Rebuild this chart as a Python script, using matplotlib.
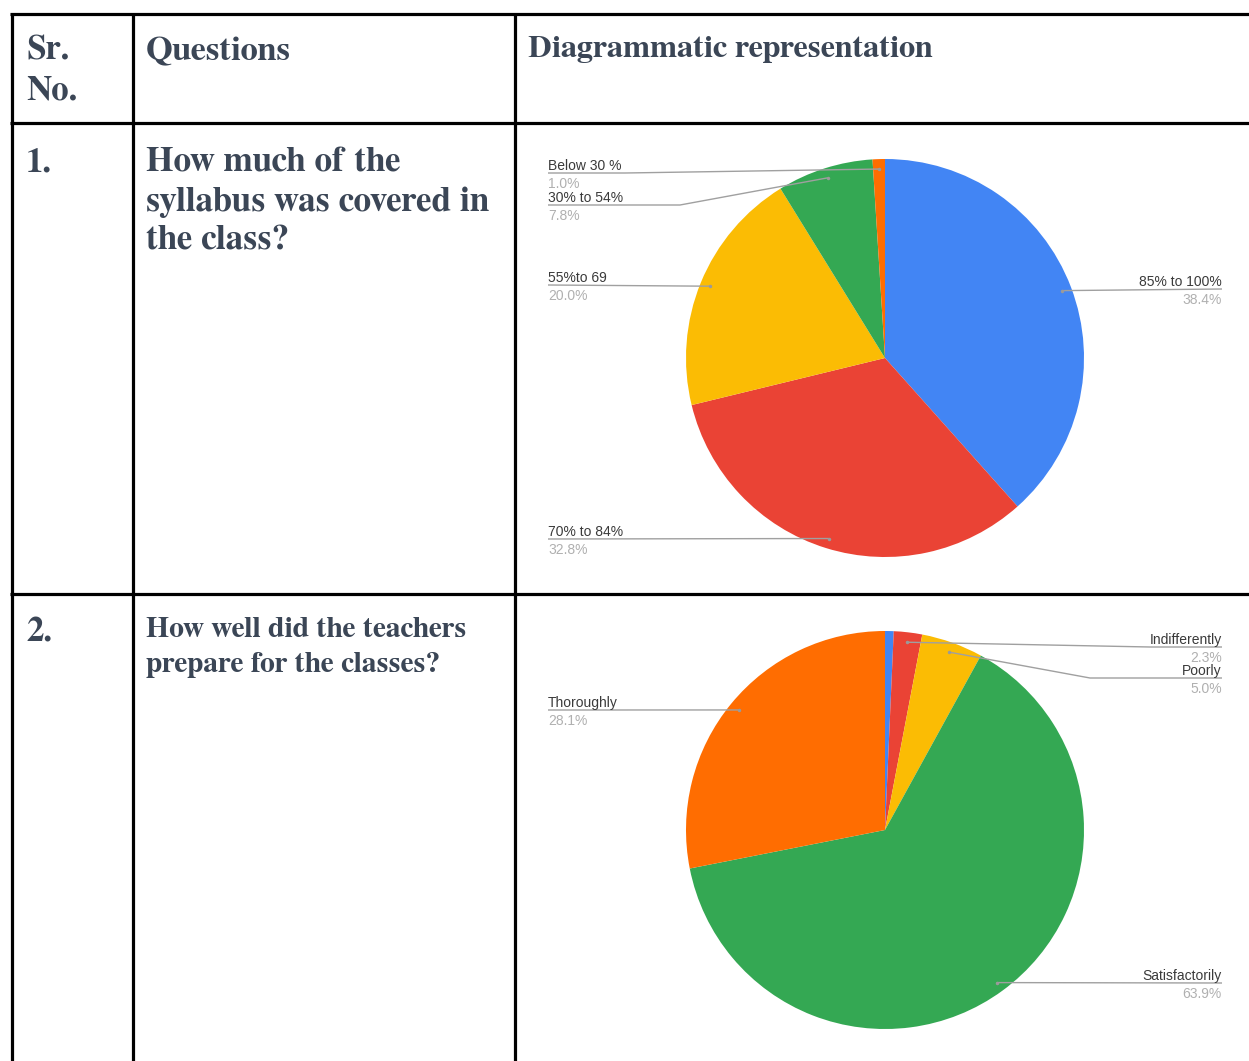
import numpy as np
import matplotlib
matplotlib.use("Agg")
import matplotlib.pyplot as plt

# ---- data ----
q1_labels = ["85% to 100%", "70% to 84%", "55%to 69", "30% to 54%", "Below 30 %"]
q1_values = [38.4, 32.8, 20.0, 7.8, 1.0]

q2_labels = [None, "Indifferently", "Poorly", "Satisfactorily", "Thoroughly"]
q2_values = [0.7, 2.3, 5.0, 63.9, 28.1]

slice_colors = ["#4285F4", "#EA4335", "#FBBC04", "#34A853", "#FF6D01"]

header = ["Sr.\nNo.", "Questions", "Diagrammatic representation"]
row_numbers = ["1.", "2."]
questions = ["How much of the\nsyllabus was covered in\nthe class?",
             "How well did the teachers\nprepare for the classes?"]

# ---- layout (pixel coords, y down) ----
W, H = 1249, 1061
TXT = "#3b4656"
SERIF = "FreeSerif"
SANS = "Liberation Sans"

# label line y, side, knee x (where the horizontal part ends) per slice
q1_layout = [(289, "right", None), (539, "left", None), (285, "left", None),
             (205, "left", 680), (173, "left", 625)]
q2_layout = [None, (647, "right", 1150), (678, "right", 1090),
             (983, "right", None), (710, "left", None)]

fig = plt.figure(figsize=(W / 100, H / 100), dpi=100)
ax = fig.add_axes([0, 0, 1, 1])


def reset_axes():
    ax.set_xlim(0, W)
    ax.set_ylim(H, 0)
    ax.axis("off")


def draw_pie(values, labels, layout, center, radius):
    # y axis is inverted, so start at -90 and go "counterclockwise" in data
    # space, which shows up as clockwise-from-top on screen
    wedges, _ = ax.pie(values, colors=slice_colors, startangle=-90,
                       counterclock=True, center=center, radius=radius,
                       wedgeprops=dict(linewidth=0))
    reset_axes()
    for w, lab, val, lay in zip(wedges, labels, values, layout):
        if lab is None:
            continue
        mid = np.deg2rad((w.theta1 + w.theta2) / 2)
        dx = center[0] + 0.95 * radius * np.cos(mid)
        dy = center[1] + 0.95 * radius * np.sin(mid)
        ly, side, knee = lay
        if side == "left":
            x_edge, ha = 548, "left"
        else:
            x_edge, ha = 1222, "right"
        xs = [x_edge]
        ys = [ly]
        if knee is not None:
            xs.append(knee); ys.append(ly)
        xs.append(dx); ys.append(dy)
        ax.plot(xs, ys, color="#a0a0a0", lw=1.0, solid_capstyle="butt")
        ax.plot(dx, dy, "o", ms=2.5, color="#9a9a9a", mec="none")
        ax.text(x_edge, ly - 3, lab, ha=ha, va="baseline", fontsize=10,
                family=SANS, color="#3a3a3a")
        ax.text(x_edge, ly + 4, f"{val:.1f}%", ha=ha, va="top", fontsize=10,
                family=SANS, color="#b0b0b0")


draw_pie(q1_values, q1_labels, q1_layout, (885, 358), 199)
draw_pie(q2_values, q2_labels, q2_layout, (885, 830), 199)
reset_axes()

# ---- table grid ----
lw = 2.3
for y in [14, 123, 594]:
    ax.plot([10, W], [y, y], color="black", lw=lw, solid_capstyle="butt")
for x in [12, 133, 515]:
    ax.plot([x, x], [13, H], color="black", lw=lw, solid_capstyle="butt")

# ---- table text ----
bold = dict(family=SERIF, weight="bold", color=TXT, va="baseline")
sr, no = header[0].split("\n")
ax.text(26, 59, sr, fontsize=25, **bold)
ax.text(26, 100, no, fontsize=25, **bold)
ax.text(146, 60, header[1], fontsize=24.8, **bold)
ax.text(528, 57, header[2], fontsize=23.4, **bold)

q1_lines = questions[0].split("\n")
q2_lines = questions[1].split("\n")
ax.text(26, 171, row_numbers[0], fontsize=25, **bold)
for i, line in enumerate(q1_lines):
    ax.text(146, 171 + 39.5 * i, line, fontsize=25.3, **bold)

ax.text(26, 641, row_numbers[1], fontsize=25, **bold)
for i, line in enumerate(q2_lines):
    ax.text(146, 637 + 34.5 * i, line, fontsize=21.3, **bold)

fig.savefig("out.png", dpi=100)
